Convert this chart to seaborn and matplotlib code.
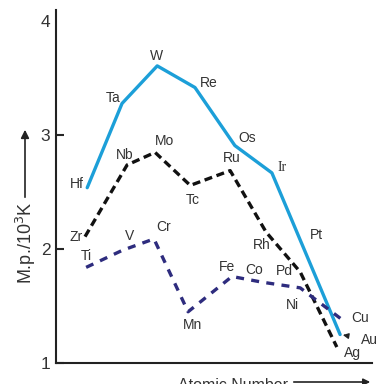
import numpy as np
import pandas as pd
import matplotlib
matplotlib.use('Agg')
import matplotlib.pyplot as plt
import seaborn as sns

# Данные: позиция в ряду и т.пл. / 10^3 K
el_5d = ['Hf', 'Ta', 'W', 'Re', 'Os', 'Ir', 'Pt', 'Au']
x_5d = [0.03, 0.99, 1.96, 3.0, 4.1, 5.12, 6.06, 7.0]
mp_5d = [2.54, 3.28, 3.61, 3.42, 2.91, 2.67, 1.96, 1.25]

el_4d = ['Zr', 'Nb', 'Mo', 'Tc', 'Ru', 'Rh', 'Pd', 'Ag']
x_4d = [-0.03, 1.13, 1.9, 2.87, 3.97, 4.96, 5.9, 6.91]
mp_4d = [2.11, 2.74, 2.85, 2.56, 2.69, 2.15, 1.80, 1.14]

el_3d = ['Ti', 'V', 'Cr', 'Mn', 'Fe', 'Co', 'Ni', 'Cu']
x_3d = [0.0, 1.0, 1.87, 2.81, 4.02, 4.85, 5.9, 7.14]
mp_3d = [1.84, 1.99, 2.09, 1.45, 1.76, 1.71, 1.66, 1.36]

# смещения подписей (пиксели)
off_5d = [(-3, 4, 'right'), (-2, 5, 'right'), (-1, 10, 'center'), (14, 5, 'center'),
          (12, 8, 'center'), (10, 5, 'center'), (10, 19, 'center'), (29, -5, 'center')]
off_4d = [(-2, 0, 'right'), (-2, 10, 'center'), (9, 11, 'center'), (2, -15, 'center'),
          (2, 13, 'center'), (-4, -13, 'center'), (-16, 1, 'center'), (16, -6, 'center')]
off_3d = [(0, 11, 'center'), (7, 14, 'center'), (10, 12, 'center'), (4, -13, 'center'),
          (-5, 9, 'center'), (-8, 12, 'center'), (-8, -17, 'center'), (15, 4, 'center')]

sns.set_style('white')
plt.rcParams['font.family'] = ['Liberation Sans', 'DejaVu Sans']

fig = plt.figure(figsize=(3.8, 3.84), dpi=100)
ax = fig.add_axes([0.1474, 0.0547, 0.8316, 0.919])

blue = '#1c9fd8'
navy = '#2e2c7e'

sns.lineplot(x=x_5d, y=mp_5d, sort=False, ax=ax, color=blue, linewidth=2.4)
sns.lineplot(x=x_4d, y=mp_4d, sort=False, ax=ax, color='#111111', linewidth=2.4)
ax.lines[-1].set_dashes([2.4, 1.4])
sns.lineplot(x=x_3d, y=mp_3d, sort=False, ax=ax, color=navy, linewidth=2.4)
ax.lines[-1].set_dashes([2.4, 2.2])

for els, xs, ys, offs in [(el_5d, x_5d, mp_5d, off_5d),
                          (el_4d, x_4d, mp_4d, off_4d),
                          (el_3d, x_3d, mp_3d, off_3d)]:
    for el, x, y, (dx, dy, ha) in zip(els, xs, ys, offs):
        fam = ['Liberation Serif'] if el == 'Ir' else ['Liberation Sans']
        if el == 'Au':
            ax.annotate(el, xy=(x, y), xytext=(dx, dy), textcoords='offset pixels',
                        ha=ha, va='center', fontsize=10, color='#333333', family=fam,
                        arrowprops=dict(arrowstyle='-|>', color='#222222', lw=1,
                                        shrinkA=9, shrinkB=2, mutation_scale=8))
        else:
            ax.annotate(el, xy=(x, y), xytext=(dx, dy), textcoords='offset pixels',
                        ha=ha, va='center', fontsize=10, color='#333333', family=fam)

ax.set_xlim(-0.83, 7.88)
ax.set_ylim(1, 4.1)
ax.set_xticks([])
ax.set_yticks([1, 2, 3, 4])
ax.set_yticklabels(['1', '2', '3', '4'])
ax.tick_params(axis='y', direction='in', length=6, width=1.5, pad=4,
               labelsize=12.5, labelcolor='#333333', left=True)
ax.yaxis.get_major_ticks()[-1].tick1line.set_visible(False)

for s in ['top', 'right']:
    ax.spines[s].set_visible(False)
for s in ['left', 'bottom']:
    ax.spines[s].set_linewidth(1.5)
    ax.spines[s].set_color('#222222')

# подпись оси Y со стрелкой
fig.text(26 / 380, 1 - 243 / 384, 'M.p./10$^3$K', rotation=90, ha='center',
         va='center', fontsize=13, color='#333333')
fig.add_artist(matplotlib.patches.FancyArrowPatch(
    (25 / 380, 1 - 200 / 384), (25 / 380, 1 - 127 / 384),
    transform=fig.transFigure, arrowstyle='-|>', mutation_scale=12,
    color='#222222', lw=1.2))

# подпись оси X со стрелкой
fig.text(233 / 380, -6 / 384, 'Atomic Number', ha='center', va='baseline',
         fontsize=11.5, color='#333333')
fig.add_artist(matplotlib.patches.FancyArrowPatch(
    (291 / 380, 1 - 382 / 384), (373 / 380, 1 - 382 / 384),
    transform=fig.transFigure, arrowstyle='-|>', mutation_scale=10,
    color='#222222', lw=1.2))

plt.savefig('out.png', dpi=100)
